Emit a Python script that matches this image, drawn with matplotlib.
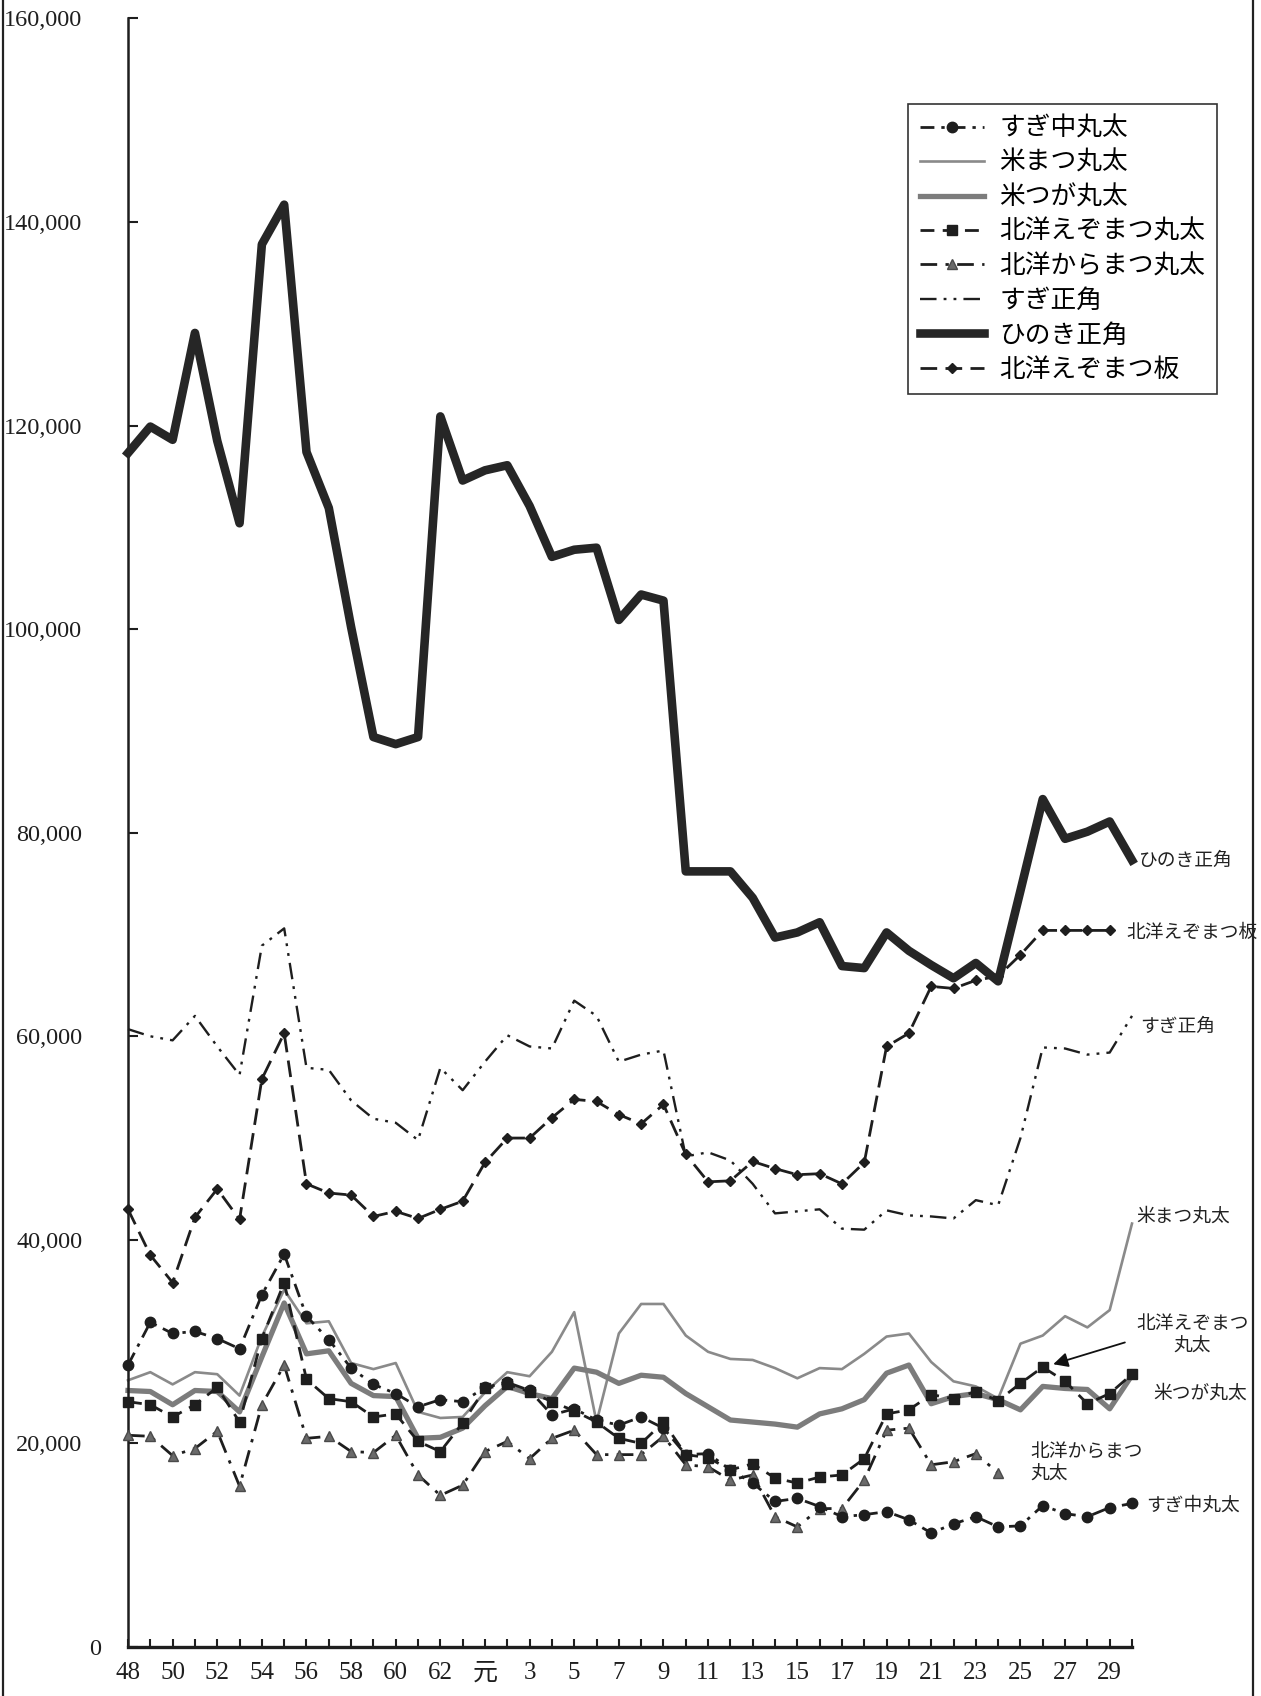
import matplotlib
matplotlib.use("Agg")
import matplotlib.pyplot as plt
from matplotlib.lines import Line2D
import numpy as np

# ---------------- data (thousand yen -> yen) ----------------
x_labels = ["48", "", "50", "", "52", "", "54", "", "56", "", "58", "", "60", "", "62", "",
            "元", "", "3", "", "5", "", "7", "", "9", "", "11", "", "13", "", "15", "",
            "17", "", "19", "", "21", "", "23", "", "25", "", "27", "", "29", ""]

sugi_maru = [27.7, 31.9, 30.8, 31.0, 30.3, 29.3, 34.6, 38.6, 32.5, 30.2, 27.4, 25.8, 24.9, 23.6, 24.3, 24.1,
             25.5, 26.0, 25.2, 22.8, 23.4, 22.3, 21.8, 22.6, 21.5, 18.9, 19.0, 17.4, 16.1, 14.3, 14.6, 13.8,
             12.8, 13.0, 13.3, 12.5, 11.2, 12.1, 12.8, 11.8, 11.9, 13.9, 13.1, 12.8, 13.7, 14.1]
beimatsu = [26.2, 27.0, 25.8, 27.0, 26.8, 24.7, 30.5, 35.1, 31.8, 32.0, 27.9, 27.3, 27.9, 23.1, 22.5, 22.6,
            25.0, 27.0, 26.6, 29.0, 32.9, 22.1, 30.8, 33.7, 33.7, 30.6, 29.0, 28.3, 28.2, 27.4, 26.4, 27.4,
            27.3, 28.8, 30.5, 30.8, 28.0, 26.1, 25.6, 24.4, 29.8, 30.6, 32.5, 31.4, 33.1, 41.6]
beitsuga = [25.2, 25.1, 23.8, 25.2, 25.1, 23.1, 28.5, 33.8, 28.8, 29.1, 25.9, 24.7, 24.6, 20.5, 20.6, 21.5,
            23.7, 25.6, 24.9, 24.4, 27.4, 27.0, 25.9, 26.7, 26.5, 24.9, 23.6, 22.3, 22.1, 21.9, 21.6, 22.9,
            23.4, 24.3, 26.9, 27.7, 23.9, 24.6, 24.9, 24.3, 23.3, 25.6, 25.4, 25.3, 23.4, 26.7]
ezo_maru = [24.1, 23.8, 22.6, 23.8, 25.5, 22.1, 30.3, 35.8, 26.3, 24.4, 24.1, 22.6, 22.9, 20.2, 19.2, 22.0,
            25.4, 25.8, 25.1, 24.1, 23.2, 22.1, 20.5, 20.0, 22.1, 18.9, 18.6, 17.4, 18.0, 16.6, 16.1, 16.7,
            16.9, 18.5, 22.9, 23.3, 24.8, 24.4, 25.1, 24.2, 25.9, 27.5, 26.1, 23.9, 24.9, 26.8]
kara_maru = [20.8, 20.7, 18.8, 19.5, 21.2, 15.8, 23.8, 27.7, 20.5, 20.7, 19.2, 19.1, 20.8, 16.9, 14.9, 15.9,
             19.2, 20.2, 18.5, 20.5, 21.3, 18.9, 18.9, 18.9, 20.7, 17.9, 17.7, 16.4, 16.9, 12.8, 11.8, 13.6,
             13.6, 16.4, 21.3, 21.5, 17.9, 18.2, 19.0, 17.1, None, None, None, None, None, None]
sugi_kaku = [60.7, 60.0, 59.6, 62.0, 59.0, 56.2, 68.9, 70.6, 56.9, 56.7, 53.7, 51.9, 51.5, 49.8, 56.9, 54.7,
             57.5, 60.1, 59.0, 58.8, 63.5, 62.0, 57.5, 58.2, 58.6, 48.2, 48.6, 47.8, 45.5, 42.6, 42.8, 43.0,
             41.1, 41.0, 42.9, 42.4, 42.3, 42.1, 43.9, 43.4, 50.0, 58.9, 58.8, 58.2, 58.4, 62.0]
hinoki = [117.3, 119.9, 118.6, 129.1, 118.5, 110.4, 137.8, 141.7, 117.4, 111.9, 100.2, 89.4, 88.7, 89.4, 120.9, 114.6,
          115.6, 116.1, 112.1, 107.1, 107.8, 108.0, 100.9, 103.4, 102.8, 76.2, 76.2, 76.2, 73.6, 69.7, 70.2, 71.2,
          66.9, 66.7, 70.2, 68.4, 67.0, 65.7, 67.2, 65.4, 74.3, 83.3, 79.4, 80.1, 81.1, 77.3]
ezo_ita = [43.0, 38.5, 35.8, 42.2, 45.0, 42.0, 55.8, 60.3, 45.5, 44.6, 44.4, 42.3, 42.8, 42.1, 43.0, 43.8,
           47.6, 50.0, 50.0, 52.0, 53.8, 53.6, 52.3, 51.4, 53.3, 48.4, 45.7, 45.8, 47.7, 47.0, 46.4, 46.5,
           45.5, 47.6, 59.0, 60.3, 64.9, 64.7, 65.5, 65.9, 68.0, 70.4, 70.4, 70.4, 70.4, None]

names = ["すぎ中丸太", "米まつ丸太", "米つが丸太", "北洋えぞまつ丸太", "北洋からまつ丸太",
         "すぎ正角", "ひのき正角", "北洋えぞまつ板"]
y_ticks = [0, 20000, 40000, 60000, 80000, 100000, 120000, 140000, 160000]


def arr(v):
    return np.array([np.nan if a is None else a * 1000 for a in v], dtype=float)


x = np.arange(len(hinoki))

CJK = ["Noto Sans CJK JP", "DejaVu Sans"]
SERIF = ["Liberation Serif", "Noto Sans CJK JP"]

W, H = 1261, 1696
fig = plt.figure(figsize=(W / 100, H / 100), dpi=100)
fig.patch.set_facecolor("white")
ax = fig.add_axes([128 / W, 49 / H, (1132 - 128) / W, (1647 - 18.4) / H])

black = "#1e1e1e"
common = dict(clip_on=False)

l1, = ax.plot(x, arr(sugi_maru), color=black, lw=2.0, ls=(0, (5, 2.5, 1.2, 2.5)),
              marker="o", ms=7.5, mfc=black, mec=black, zorder=4, **common)
l2, = ax.plot(x, arr(beimatsu), color="#8a8a8a", lw=1.9, zorder=2, **common)
l3, = ax.plot(x, arr(beitsuga), color="#7c7c7c", lw=3.8, zorder=2, **common)
l4, = ax.plot(x, arr(ezo_maru), color=black, lw=2.0, ls=(0, (5, 3)),
              marker="s", ms=7, mfc=black, mec=black, zorder=4, **common)
l5, = ax.plot(x, arr(kara_maru), color=black, lw=2.0, ls=(0, (6, 3, 1.2, 3)),
              marker="^", ms=7.5, mfc="#6a6a6a", mec="#4a4a4a", zorder=3, **common)
l6, = ax.plot(x, arr(sugi_kaku), color=black, lw=1.7, ls=(0, (7, 3, 1.2, 3, 1.2, 3)), zorder=3, **common)
l7, = ax.plot(x, arr(hinoki), color="#262626", lw=6.2, zorder=5, **common)
l8, = ax.plot(x, arr(ezo_ita), color=black, lw=2.0, ls=(0, (6, 3)),
              marker="D", ms=5.5, mfc=black, mec=black, zorder=4, **common)

# axes styling
ax.set_xlim(0, 45)
ax.set_ylim(0, 160000)
for s in ["top", "right"]:
    ax.spines[s].set_visible(False)
ax.spines["left"].set_linewidth(1.8)
ax.spines["bottom"].set_linewidth(2.4)
ax.spines["left"].set_color(black)
ax.spines["bottom"].set_color(black)

ax.set_xticks(np.arange(0, 46))
ax.set_xticklabels(x_labels, fontfamily=SERIF, fontsize=18)
ax.tick_params(axis="x", direction="in", length=6, width=1.5, pad=11, colors=black)

ax.set_yticks(y_ticks)
ax.set_yticklabels([f"{v:,}" for v in y_ticks], fontfamily=SERIF, fontsize=17.5)
ax.tick_params(axis="y", direction="in", length=7, width=1.5, pad=33, colors=black)
ax.yaxis.get_major_ticks()[0].set_pad(19)

# legend
leg = ax.legend([l1, l2, l3, l4, l5, l6, l7, l8], names, loc="upper left",
                bbox_to_anchor=(908 / W, 1 - 104 / H), bbox_transform=fig.transFigure,
                prop={"family": CJK, "size": 18.5}, frameon=True, fancybox=False,
                edgecolor="#333333", framealpha=1, borderpad=0.45, labelspacing=0.33,
                handlelength=2.5, handletextpad=0.6, borderaxespad=0)
leg.get_frame().set_linewidth(1.2)

# end labels
lab = dict(family=CJK, fontsize=13.5, color="#222222", va="center")
ax.text(45.3, 77300, "ひのき正角", ha="left", **lab)
ax.text(44.75, 70200, "北洋えぞまつ板", ha="left", **lab)
ax.text(45.35, 61000, "すぎ正角", ha="left", **lab)
ax.text(45.2, 42300, "米まつ丸太", ha="left", **lab)
ax.text(47.7, 30700, "北洋えぞまつ\n丸太", ha="center", multialignment="center", linespacing=1.1, **lab)
ax.text(45.95, 24900, "米つが丸太", ha="left", **lab)
ax.text(40.45, 18100, "北洋からまつ\n丸太", ha="left", multialignment="left", linespacing=1.1, **lab)
ax.text(45.65, 13950, "すぎ中丸太", ha="left", **lab)
ax.annotate("", xy=(41.35, 27700), xytext=(44.8, 30000),
            arrowprops=dict(arrowstyle="-|>", color="#111111", lw=1.3, mutation_scale=22),
            annotation_clip=False)

# page frame lines (scan border)
fig.add_artist(Line2D([3 / W, 3 / W], [0, 1], transform=fig.transFigure, color="#222222", lw=1.6))
fig.add_artist(Line2D([1253 / W, 1253 / W], [0, 1], transform=fig.transFigure, color="#222222", lw=1.6))

fig.savefig("out.png", dpi=100, facecolor="white")
